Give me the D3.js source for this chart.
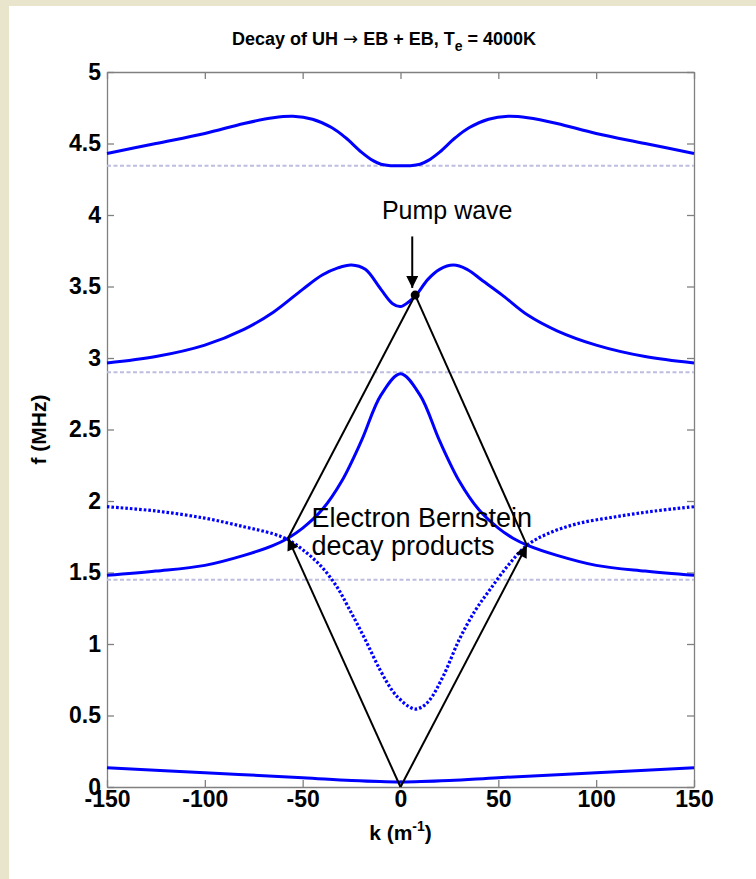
<!DOCTYPE html>
<html>
<head>
<meta charset="utf-8">
<script src="https://cdn.jsdelivr.net/npm/d3@7"></script>
<style>
  html, body { margin: 0; padding: 0; background: #e9e5cc; }
  svg { display: block; }
  text { font-family: "Liberation Sans", Arial, sans-serif; }
</style>
</head>
<body>
<div id="chart"></div>
<script>
// dispersion branches (k in 1/m, f in MHz)
var kTop = [-150, -125, -100, -80, -65, -55, -45, -35, -28, -20, -14, -10, -5, 0, 5, 10, 14, 20, 28, 35, 45, 55, 65, 80, 100, 125, 150];
var fTop = [4.43, 4.50, 4.57, 4.64, 4.68, 4.69, 4.67, 4.61, 4.54, 4.44, 4.38, 4.355, 4.345, 4.345, 4.345, 4.355, 4.38, 4.44, 4.54, 4.61, 4.67, 4.69, 4.68, 4.64, 4.57, 4.50, 4.43];

var kUH = [-150, -125, -100, -80, -65, -50, -40, -32, -25, -18, -10, -4, 0, 4, 8, 14, 20, 27, 34, 42, 52, 65, 80, 100, 125, 150];
var fUH = [2.965, 3.01, 3.09, 3.20, 3.32, 3.48, 3.58, 3.63, 3.65, 3.62, 3.48, 3.38, 3.36, 3.39, 3.44, 3.55, 3.62, 3.65, 3.62, 3.54, 3.44, 3.30, 3.19, 3.09, 3.01, 2.965];

var kEB = [-150, -125, -100, -80, -65, -57.5, -50, -40, -30, -20, -10, 0, 10, 20, 30, 40, 50, 57.5, 65, 80, 100, 125, 150];
var fEB = [1.48, 1.51, 1.55, 1.62, 1.69, 1.74, 1.81, 1.94, 2.14, 2.42, 2.74, 2.89, 2.74, 2.42, 2.14, 1.94, 1.81, 1.74, 1.69, 1.62, 1.55, 1.51, 1.48];

var kDot = [-150, -125, -100, -80, -65, -57.5, -50, -41, -33, -26, -18, -10.5, -4, 0, 4, 7.5, 11, 15, 22, 30, 38, 45.7, 55, 64.6, 75, 90, 110, 130, 150];
var fDot = [1.96, 1.93, 1.88, 1.82, 1.77, 1.73, 1.66, 1.55, 1.41, 1.24, 1.03, 0.82, 0.67, 0.61, 0.565, 0.545, 0.56, 0.61, 0.78, 1.03, 1.23, 1.38, 1.55, 1.69, 1.77, 1.84, 1.89, 1.93, 1.96];

var kLow = [-150, -100, -50, -25, 0, 25, 50, 100, 150];
var fLow = [0.135, 0.10, 0.065, 0.045, 0.035, 0.045, 0.065, 0.10, 0.135];

var asymptotes = [4.345, 2.9, 1.45];

// decay triangle: pump, two EB products, origin
var pump = {k: 7.5, f: 3.44};
var eb1 = {k: -57.5, f: 1.74};
var eb2 = {k: 64.6, f: 1.69};
var origin = {k: 0, f: 0};

var xTicks = [-150, -100, -50, 0, 50, 100, 150];
var yTicks = [0, 0.5, 1, 1.5, 2, 2.5, 3, 3.5, 4, 4.5, 5];

var W = 756, H = 879;
var margin = {top: 72, right: 62, bottom: 92, left: 107};
var width = W - margin.left - margin.right,
    height = H - margin.top - margin.bottom;

var svg = d3.select("#chart").append("svg")
    .attr("width", W)
    .attr("height", H);

// white slide panel over the beige backdrop
svg.append("rect").attr("x", 9).attr("y", 6).attr("width", W - 9).attr("height", H - 6).attr("fill", "#ffffff");

var g = svg.append("g").attr("transform", "translate(" + margin.left + "," + margin.top + ")");

var x = d3.scaleLinear().domain([-150, 150]).range([0, width]);
var y = d3.scaleLinear().domain([0, 5]).range([height, 0]);

var axisGray = "#808080";

function styleAxis(sel) {
    sel.selectAll("path, line").attr("stroke", axisGray).attr("stroke-width", 1.3);
    sel.selectAll("text").attr("fill", "#000").style("font-size", "23px").style("font-weight", "bold");
}

var plain = function(d) { return String(d); };

g.append("g").attr("transform", "translate(0," + height + ")")
    .call(d3.axisBottom(x).tickValues(xTicks).tickSizeInner(-7).tickSizeOuter(0).tickPadding(4).tickFormat(plain))
    .call(styleAxis);
g.append("g")
    .call(d3.axisLeft(y).tickValues(yTicks).tickSizeInner(-7).tickSizeOuter(0).tickPadding(6).tickFormat(plain))
    .call(styleAxis);
g.append("g")
    .call(d3.axisTop(x).tickValues(xTicks).tickSizeInner(-7).tickSizeOuter(0).tickFormat(""))
    .call(styleAxis);
g.append("g").attr("transform", "translate(" + width + ",0)")
    .call(d3.axisRight(y).tickValues(yTicks).tickSizeInner(-7).tickSizeOuter(0).tickFormat(""))
    .call(styleAxis);

// asymptotes
g.selectAll(".asym").data(asymptotes).enter().append("line")
    .attr("class", "asym")
    .attr("x1", x(-150)).attr("x2", x(150))
    .attr("y1", function(d) { return y(d); }).attr("y2", function(d) { return y(d); })
    .attr("stroke", "#bdbde0").attr("stroke-width", 2).attr("stroke-dasharray", "4,2.5");

function pairs(ks, fs) { return ks.map(function(k, i) { return [k, fs[i]]; }); }

var line = d3.line()
    .x(function(d) { return x(d[0]); })
    .y(function(d) { return y(d[1]); })
    .curve(d3.curveCatmullRom.alpha(0.5));

var blue = "#0000ff";
[[kTop, fTop], [kUH, fUH], [kEB, fEB], [kLow, fLow]].forEach(function(b) {
    g.append("path").datum(pairs(b[0], b[1]))
        .attr("d", line).attr("fill", "none")
        .attr("stroke", blue).attr("stroke-width", 3);
});
g.append("path").datum(pairs(kDot, fDot))
    .attr("d", line).attr("fill", "none")
    .attr("stroke", blue).attr("stroke-width", 3.2).attr("stroke-dasharray", "2.6,2");

// arrow marker
svg.append("defs").append("marker")
    .attr("id", "arr").attr("viewBox", "0 0 10 10")
    .attr("refX", 10).attr("refY", 5)
    .attr("markerWidth", 14).attr("markerHeight", 12)
    .attr("markerUnits", "userSpaceOnUse")
    .attr("orient", "auto")
    .append("path").attr("d", "M0,0 L10,5 L0,10 Z").attr("fill", "#000");

function seg(a, b, arrow) {
    var l = g.append("line")
        .attr("x1", x(a.k)).attr("y1", y(a.f))
        .attr("x2", x(b.k)).attr("y2", y(b.f))
        .attr("stroke", "#000").attr("stroke-width", 2);
    if (arrow) l.attr("marker-end", "url(#arr)");
}
seg(pump, eb1, false);
seg(pump, eb2, false);
seg(origin, eb1, true);
seg(origin, eb2, true);

g.append("circle").attr("cx", x(pump.k)).attr("cy", y(pump.f)).attr("r", 4.5).attr("fill", "#000");

// pump wave label + arrow
g.append("line")
    .attr("x1", x(6)).attr("y1", y(3.85))
    .attr("x2", x(6)).attr("y2", y(3.49))
    .attr("stroke", "#000").attr("stroke-width", 2)
    .attr("marker-end", "url(#arr)");

g.append("text").attr("x", x(-9.5)).attr("y", y(3.97))
    .style("font-size", "25px").text("Pump wave");
g.append("text").attr("x", x(-45.5)).attr("y", y(1.82))
    .style("font-size", "27px").text("Electron Bernstein");
g.append("text").attr("x", x(-45.5)).attr("y", y(1.62))
    .style("font-size", "27px").text("decay products");

// title
var title = svg.append("text").attr("x", 384).attr("y", 45)
    .attr("text-anchor", "middle")
    .style("font-size", "18px").style("font-weight", "bold");
title.append("tspan").text("Decay of UH ");
title.append("tspan").style("font-family", "DejaVu Sans").style("font-weight", "normal").text("\u2192");
title.append("tspan").text(" EB + EB, T");
title.append("tspan").attr("dy", 6).style("font-size", "14px").text("e");
title.append("tspan").attr("dy", -6).text(" = 4000K");

// axis labels
var xl = svg.append("text").attr("x", margin.left + width / 2).attr("y", 840)
    .attr("text-anchor", "middle").style("font-size", "21px").style("font-weight", "bold");
xl.append("tspan").text("k (m");
xl.append("tspan").attr("dy", -9).style("font-size", "14px").text("-1");
xl.append("tspan").attr("dy", 9).text(")");

svg.append("text")
    .attr("transform", "translate(46," + (margin.top + height / 2) + ") rotate(-90)")
    .attr("text-anchor", "middle").style("font-size", "21px").style("font-weight", "bold")
    .text("f (MHz)");
</script>
</body>
</html>
